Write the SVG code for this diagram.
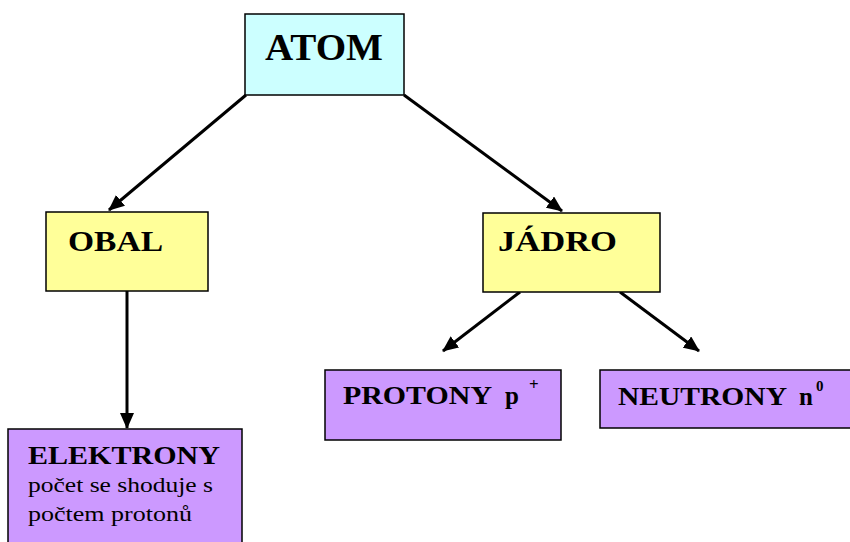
<svg xmlns="http://www.w3.org/2000/svg" width="850" height="542" viewBox="0 0 850 542">
<defs>
<marker id="ah" markerWidth="16" markerHeight="14" refX="15" refY="7" orient="auto" markerUnits="userSpaceOnUse">
<path d="M0,0 L16,7 L0,14 z" fill="#000"/>
</marker>
<style>
.box{stroke:#000;stroke-width:1.5}
.cyan{fill:#CCFFFF}
.yel{fill:#FFFF99}
.pur{fill:#CC99FF}
.t{font-weight:bold;fill:#000}
.r{fill:#000}
.c{stroke:#000;stroke-width:3;fill:none}
</style>
</defs>
<rect width="850" height="542" fill="#fff"/>
<g id="connectors">
<line class="c" x1="246" y1="95" x2="109" y2="210" marker-end="url(#ah)"/>
<line class="c" x1="404" y1="95" x2="562" y2="211" marker-end="url(#ah)"/>
<line class="c" x1="127" y1="291" x2="127" y2="428" marker-end="url(#ah)"/>
<line class="c" x1="520" y1="292" x2="443" y2="351" marker-end="url(#ah)"/>
<line class="c" x1="620" y1="292" x2="699" y2="351" marker-end="url(#ah)"/>
</g>
<g font-family="Liberation Serif, DejaVu Serif, serif">
<g id="atom">
<rect class="box cyan" x="245" y="14" width="159" height="81"/>
<text class="t" x="265" y="60" font-size="38" textLength="118" lengthAdjust="spacingAndGlyphs">ATOM</text>
</g>
<g id="obal">
<rect class="box yel" x="46" y="212" width="162" height="79"/>
<text class="t" x="68" y="251" font-size="29" textLength="95" lengthAdjust="spacingAndGlyphs">OBAL</text>
</g>
<g id="jadro">
<rect class="box yel" x="483" y="213" width="177" height="79"/>
<text class="t" x="498" y="251" font-size="29" textLength="119" lengthAdjust="spacingAndGlyphs">JÁDRO</text>
</g>
<g id="elektrony">
<rect class="box pur" x="8" y="429" width="234" height="130"/>
<text class="t" x="28" y="464" font-size="25" textLength="192" lengthAdjust="spacingAndGlyphs">ELEKTRONY</text>
<text class="r" x="28" y="492" font-size="20" textLength="185" lengthAdjust="spacingAndGlyphs">počet se shoduje s</text>
<text class="r" x="28" y="521" font-size="20" textLength="164" lengthAdjust="spacingAndGlyphs">počtem protonů</text>
</g>
<g id="protony">
<rect class="box pur" x="325" y="370" width="236" height="70"/>
<text class="t" x="343" y="404" font-size="25" textLength="149" lengthAdjust="spacingAndGlyphs">PROTONY</text>
<text class="t" x="505" y="404" font-size="25">p</text>
<text class="t" x="529" y="390" font-size="17">+</text>
</g>
<g id="neutrony">
<rect class="box pur" x="600" y="370" width="256" height="58"/>
<text class="t" x="618" y="405" font-size="25" textLength="169" lengthAdjust="spacingAndGlyphs">NEUTRONY</text>
<text class="t" x="799" y="405" font-size="25">n</text>
<text class="t" x="816" y="391" font-size="15">0</text>
</g>
</g>
</svg>
